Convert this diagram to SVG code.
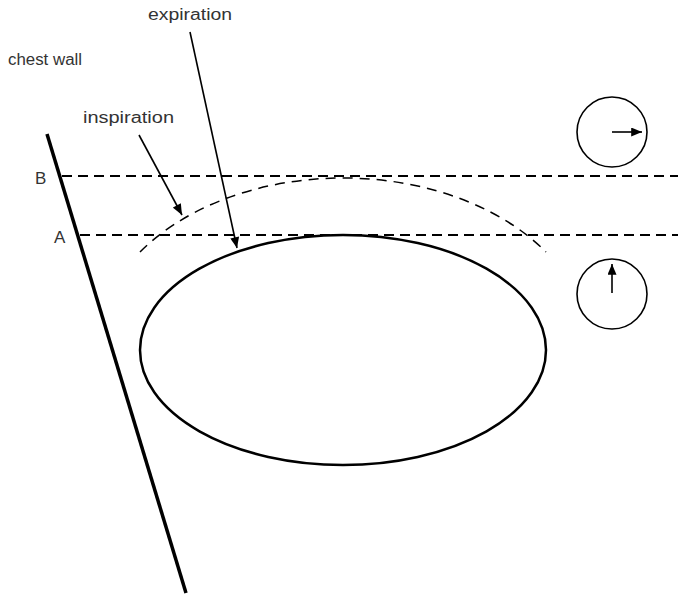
<svg xmlns="http://www.w3.org/2000/svg" width="678" height="600" viewBox="0 0 678 600">
<style>
text{font-family:"Liberation Sans",Arial,sans-serif;font-size:16px;fill:#333}
.dash{fill:none;stroke:#000;stroke-width:1.8;stroke-dasharray:10 6}
.arc{fill:none;stroke:#000;stroke-width:1.5;stroke-dasharray:10 7}
.arr{fill:none;stroke:#000;stroke-width:1.6}
.circ{fill:none;stroke:#000;stroke-width:1.6}
</style>
<defs>
<marker id="ah" viewBox="0 0 12 10" refX="12" refY="5" markerWidth="12" markerHeight="9" markerUnits="userSpaceOnUse" orient="auto">
<path d="M0,0 L12,5 L0,10 Z" fill="#000"/>
</marker>
</defs>
<rect width="678" height="600" fill="#fff"/>
<g id="chest-wall">
<line x1="47" y1="134" x2="186" y2="593" stroke="#000" stroke-width="3.5"/>
<text x="8" y="65" textLength="74" lengthAdjust="spacingAndGlyphs">chest wall</text>
</g>
<g id="levels">
<line class="dash" x1="62" y1="176" x2="678" y2="176"/>
<line class="dash" x1="80" y1="235" x2="678" y2="235"/>
<text x="35" y="184" style="font-size:17px">B</text>
<text x="54" y="243" style="font-size:17px">A</text>
</g>
<g id="inspiration-outline">
<path class="arc" d="M140 252 A247 172 0 0 1 546 252"/>
</g>
<g id="expiration-outline">
<ellipse cx="343" cy="350" rx="203" ry="115" fill="none" stroke="#000" stroke-width="2.5"/>
</g>
<g id="labels">
<text x="148" y="20" textLength="84" lengthAdjust="spacingAndGlyphs">expiration</text>
<text x="83" y="123" textLength="91" lengthAdjust="spacingAndGlyphs">inspiration</text>
</g>
<g id="connectors">
<line class="arr" x1="190" y1="32" x2="237" y2="248" marker-end="url(#ah)"/>
<line class="arr" x1="139" y1="135" x2="182" y2="215" marker-end="url(#ah)"/>
</g>
<g id="circle-right">
<circle class="circ" cx="612" cy="132" r="35"/>
<line class="arr" x1="612" y1="132" x2="642" y2="132" marker-end="url(#ah)"/>
</g>
<g id="circle-up">
<circle class="circ" cx="612" cy="294" r="35"/>
<line class="arr" x1="612" y1="293" x2="612" y2="264" marker-end="url(#ah)"/>
</g>
</svg>
